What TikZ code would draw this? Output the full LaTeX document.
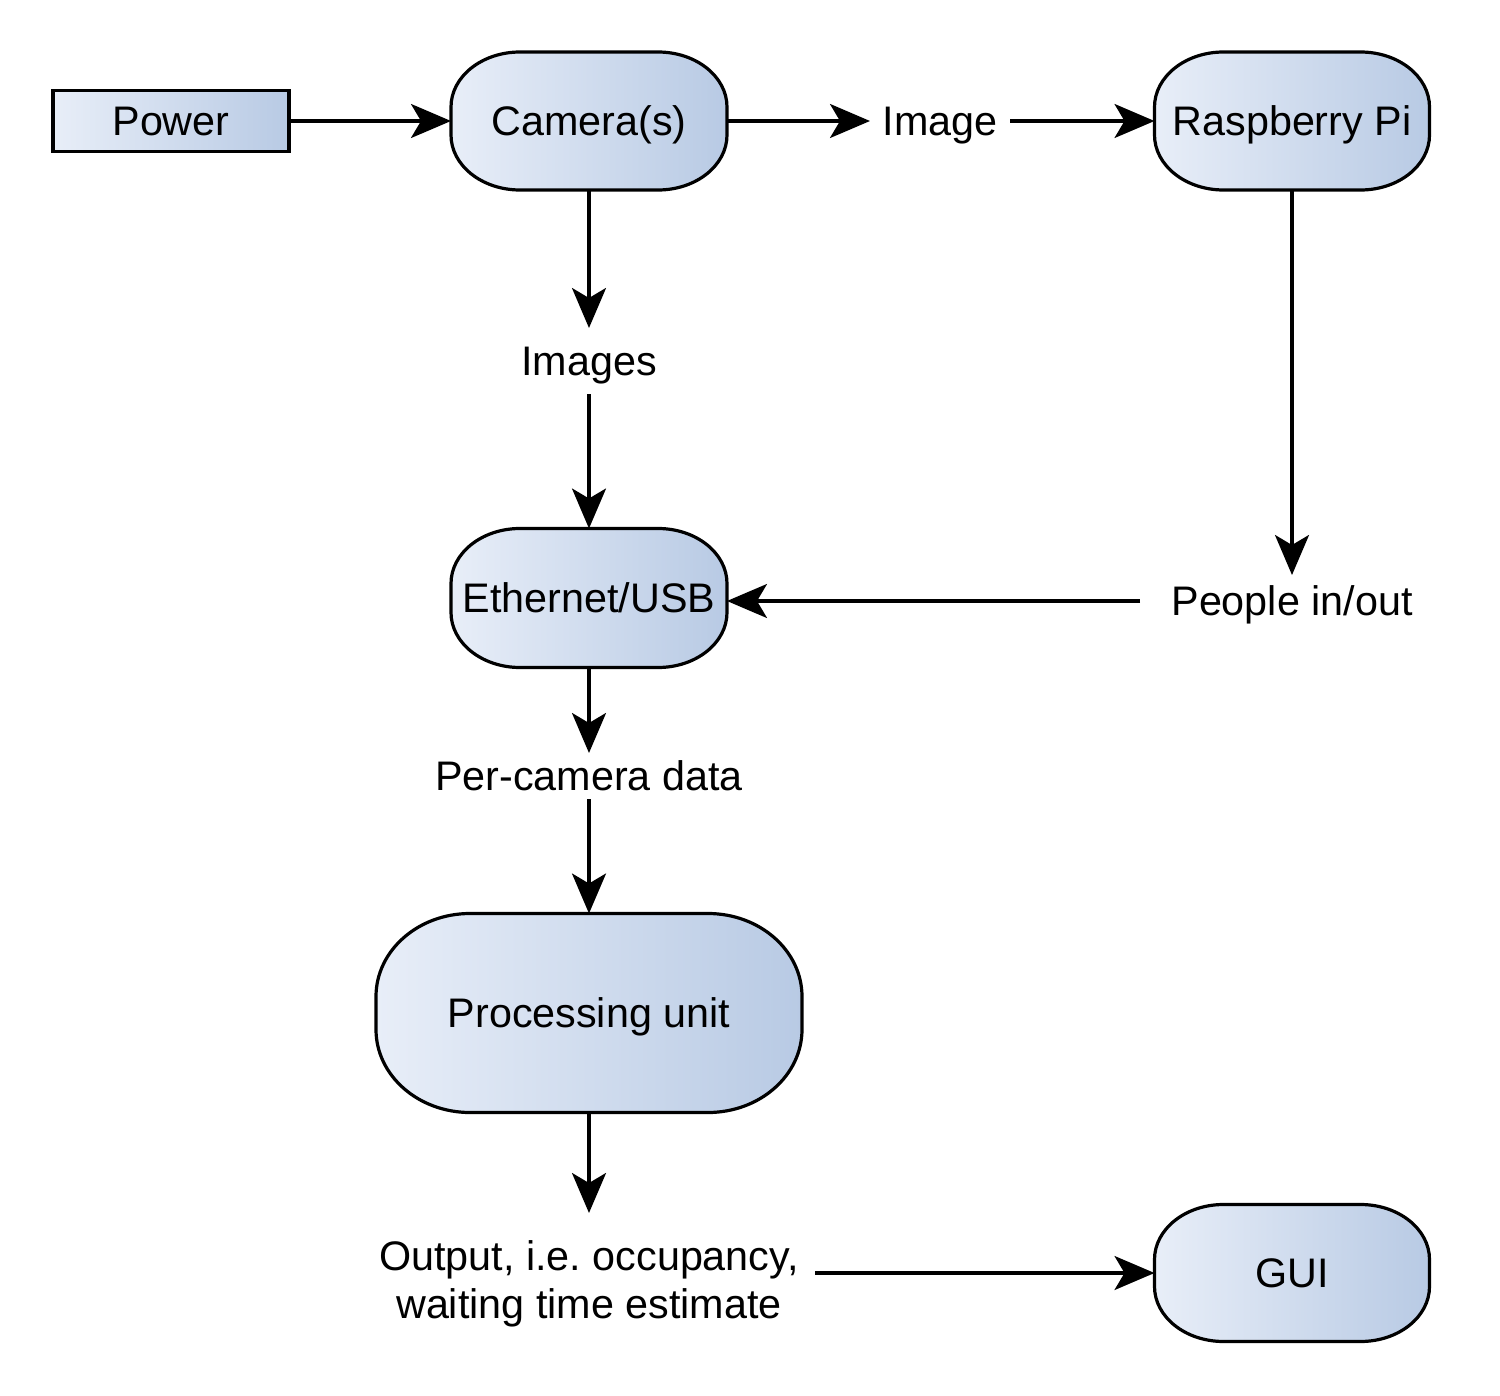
\documentclass[tikz,border=0pt]{standalone}
\usepackage{fontspec}
\setmainfont{Liberation Sans}
\usetikzlibrary{arrows.meta,calc}
\pgfdeclarelayer{background}
\pgfsetlayers{background,main}
\frenchspacing
\definecolor{gradL}{HTML}{E8EEF8}
\definecolor{gradR}{HTML}{B8CAE4}
\newcommand\tshape[3]{%
 \begin{pgfonlayer}{background}
 \path[tfill] ([xshift=#2]#1.north west) -- ([xshift=-#2]#1.north east)
   arc[start angle=90,end angle=0,x radius=#2,y radius=#3]
   -- ([yshift=#3]#1.south east)
   arc[start angle=0,end angle=-90,x radius=#2,y radius=#3]
   -- ([xshift=#2]#1.south west)
   arc[start angle=270,end angle=180,x radius=#2,y radius=#3]
   -- ([yshift=-#3]#1.north west)
   arc[start angle=180,end angle=90,x radius=#2,y radius=#3] -- cycle;
 \end{pgfonlayer}}
\tikzset{
  tfill/.style={draw=black, line width=1.6pt, left color=gradL, right color=gradR},
  boxnode/.style={inner sep=0pt, outer sep=0pt, font=\fontsize{20.65pt}{24pt}\selectfont,
     text height=14.8pt, text depth=0pt},
  pwrbox/.style={boxnode, draw=black, line width=1.6pt, left color=gradL, right color=gradR,
     minimum width=118pt, minimum height=30.5pt},
  lbl/.style={inner sep=0pt, outer sep=0pt, align=center, font=\fontsize{20.65pt}{24pt}\selectfont,
     text height=14.8pt, text depth=0pt},
  lbltwo/.style={inner sep=0pt, outer sep=0pt, align=center, font=\fontsize{20.65pt}{24pt}\selectfont},
  conn/.style={line width=1.6pt, -{Stealth[length=20pt,width=17pt,inset=5pt]}},
}
\begin{document}
\begin{tikzpicture}[x=0.5pt,y=-0.5pt]
\useasboundingbox (0,0) rectangle (1500,1396);
% boxes
\node[pwrbox] (pwr) at (171,121) {Power};
\node[boxnode, minimum width=138pt, minimum height=69pt] (cam) at (589,121) {Camera(s)};
\node[boxnode, minimum width=137.5pt, minimum height=69pt] (rpi) at (1292,121) {Raspberry Pi};
\node[boxnode, minimum width=138pt, minimum height=69.5pt] (eth) at (589,598) {Ethernet/USB};
\node[boxnode, minimum width=213pt, minimum height=99.5pt] (proc) at (589,1013) {Processing unit};
\node[boxnode, minimum width=137.5pt, minimum height=68.5pt] (gui) at (1292,1273) {GUI};
\tshape{cam}{34.5pt}{27.5pt}
\tshape{rpi}{34.5pt}{27.5pt}
\tshape{eth}{34.5pt}{27.5pt}
\tshape{proc}{47pt}{41.5pt}
\tshape{gui}{34.5pt}{27.5pt}
% labels
\node[lbl, minimum width=70pt, minimum height=20pt] (img) at (940,121) {Image};
\node[lbl, minimum width=70pt, minimum height=33pt] (imgs) at (589,361) {Images};
\node[lbl, minimum width=152pt, minimum height=26pt] (ppl) at (1292,601) {People in/out};
\node[lbl, minimum width=155pt, minimum height=23pt] (pcd) at (589,776) {Per-camera data};
\node[lbltwo, minimum width=226pt, minimum height=71pt] (out) at (589,1284) {Output, i.e. occupancy,\\waiting time estimate};
% connectors
\draw[conn] (pwr.east) -- (cam.west);
\draw[conn] (cam.east) -- (img.west);
\draw[conn] (img.east) -- (rpi.west);
\draw[conn] (cam.south) -- (imgs.north);
\draw[conn] (imgs.south) -- (eth.north);
\draw[conn] (rpi.south) -- (ppl.north);
\draw[conn] (ppl.west) -- (ppl.west -| eth.east);
\draw[conn] (eth.south) -- (pcd.north);
\draw[conn] (pcd.south) -- (proc.north);
\draw[conn] (proc.south) -- (out.north);
\draw[conn] (out.east |- gui.west) -- (gui.west);
\end{tikzpicture}
\end{document}
